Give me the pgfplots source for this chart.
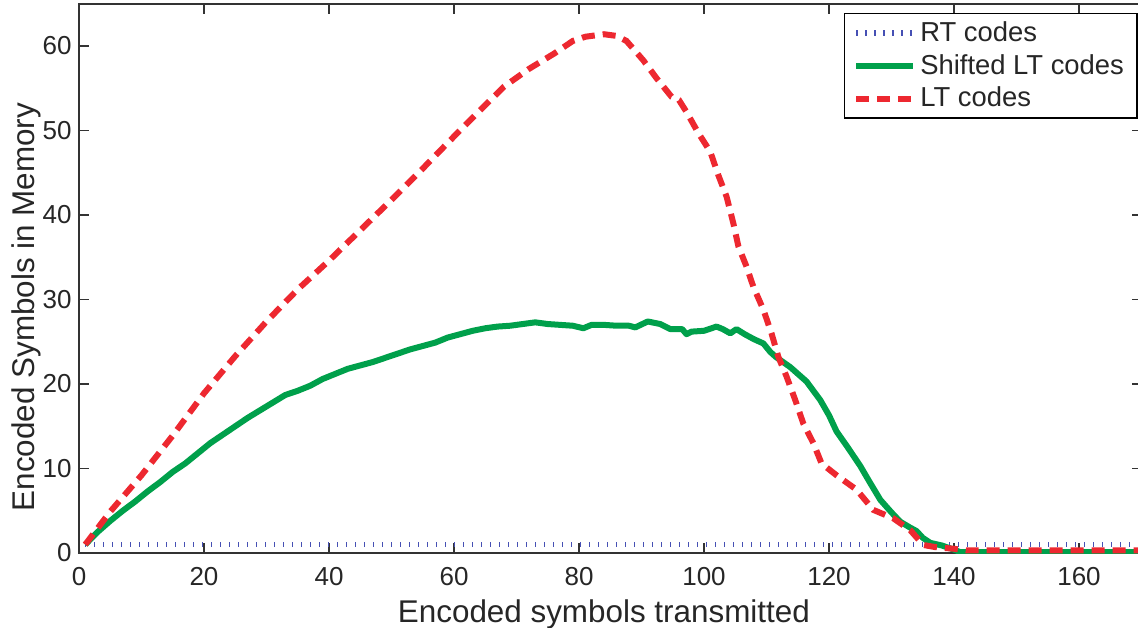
\documentclass[border=0pt]{standalone}
\usepackage{pgfplots}
\pgfplotsset{compat=1.18}
\usepackage{fontspec}
\setmainfont{Liberation Sans}
\definecolor{rtblue}{RGB}{70,80,180}
\definecolor{sltgreen}{RGB}{0,160,75}
\definecolor{ltred}{RGB}{237,40,48}
\begin{document}
\begin{tikzpicture}
\begin{axis}[
  scale only axis,
  width=531.25pt, height=274.6pt,
  xmin=0, xmax=170, ymin=0, ymax=65,
  xtick={0,20,...,160}, ytick={0,10,...,60},
  tick align=inside, major tick length=5pt,
  axis line style={black!80, line width=0.8pt},
  every tick/.style={black!80, line width=0.7pt},
  /pgf/number format/assume math mode=true,
  tick label style={font=\fontsize{13}{15}\selectfont, text=black!85},
  xticklabel style={anchor=base, yshift=-16pt},
  yticklabel style={anchor=east, inner sep=0pt, xshift=-3.5pt},
  xlabel={Encoded symbols transmitted},
  ylabel={Encoded Symbols in Memory},
  label style={font=\fontsize{15.7}{18}\selectfont, text=black!85},
  xlabel style={at={([yshift=-34.5pt]axis description cs:0.494,0)}, anchor=base},
  ylabel style={at={([xshift=-26.5pt]axis description cs:0,0.448)}, anchor=center},
  legend style={at={(axis description cs:1,1)}, anchor=north east,
    xshift=-2pt, yshift=-4.5pt, draw=black, line width=0.6pt,
    font=\fontsize{13.7}{16}\selectfont, text=black!85,
    inner xsep=4.5pt, inner ysep=2pt, row sep=1pt},
  legend cell align=left,
  legend image code/.code={\draw[#1] plot coordinates {(0pt,0pt) (28.5pt,0pt)};},
]

% RT codes
\addplot[color=rtblue, line width=2.7pt, dash pattern=on 0.6pt off 3.9pt]
  coordinates {(1,1) (170,1)};
\addlegendentry{RT codes}

% Shifted LT codes
\addplot[color=sltgreen, line width=3pt, line join=round]
  coordinates {
    (1,1.0) (3,2.5) (5,3.8) (7,5.0) (9,6.1) (11,7.3) (13,8.4) (15,9.6)
    (17,10.6) (19,11.8) (21,13.0) (23,14.0) (25,15.0) (27,16.0) (29,16.9)
    (31,17.8) (33,18.7) (35,19.2) (37,19.8) (39,20.6) (41,21.2) (43,21.8)
    (45,22.2) (47,22.6) (49,23.1) (51,23.6) (53,24.1) (55,24.5) (57,24.9)
    (59,25.5) (61,25.9) (63,26.3) (65,26.6) (67,26.8) (69,26.9) (71,27.1)
    (73,27.3) (75,27.1) (77,27.0) (79,26.9) (80.7,26.6) (82,27.0) (84,27.0)
    (86,26.9) (88,26.9) (89,26.7) (91,27.4) (93,27.1) (94.6,26.5) (96.5,26.5)
    (97.2,25.9) (98,26.2) (100,26.3) (102,26.8) (103,26.5) (104.2,26.0)
    (105.2,26.5) (106.5,25.9) (108,25.3) (109.5,24.8) (110.6,23.8)
    (111.5,23.2) (113.8,22.0) (116.4,20.3) (118.6,18.1) (120,16.3)
    (121.2,14.4) (123,12.5) (125,10.3) (126.5,8.4) (128.2,6.3) (130,4.8)
    (131.4,3.7) (133,3.0) (134,2.6) (135,1.8) (136.2,1.2) (138,0.9)
    (140,0.4) (141,0.1) (170,0.1)
  };
\addlegendentry{Shifted LT codes}

% LT codes
\addplot[color=ltred, line width=3pt, dash pattern=on 6.5pt off 4pt]
  coordinates {
    (1,1) (5,4.9) (10,9.2) (15,13.9) (20,18.9) (25,23.3) (30,27.4)
    (35,31.2) (40,34.6) (45,38.2) (50,41.8) (55,45.5) (60,49.3) (65,53.0)
    (68,55.2) (72,57.3) (76,59.1) (79,60.6) (81,61.1) (84,61.4) (86,61.2)
    (87.6,60.6) (90.3,58.3) (92.4,56.2) (94.8,54.0) (96,53.6) (97.2,52.2)
    (99.1,49.7) (101,47.5) (102.3,44.7) (103.6,42.2) (104.7,39.0)
    (105.5,36.3) (106.8,33.9) (107.9,31.5) (109.5,28.8) (110.8,26.0)
    (111.9,23.2) (113.2,20.9) (114.6,18.1) (115.9,15.3) (117.5,13.0)
    (118.8,10.6) (121.2,9.2) (124.4,7.5) (127.1,5.1) (130.3,4.1)
    (133,2.7) (135.1,0.95) (137,0.7) (140,0.5) (142,0.3) (170,0.3)
  };
\addlegendentry{LT codes}

\end{axis}
\pgfresetboundingbox
\path[use as bounding box]
  ([xshift=-39.5pt,yshift=-37pt]current axis.south west) rectangle
  ([xshift=529.5pt,yshift=276.5pt]current axis.south west);
\end{tikzpicture}
\end{document}
